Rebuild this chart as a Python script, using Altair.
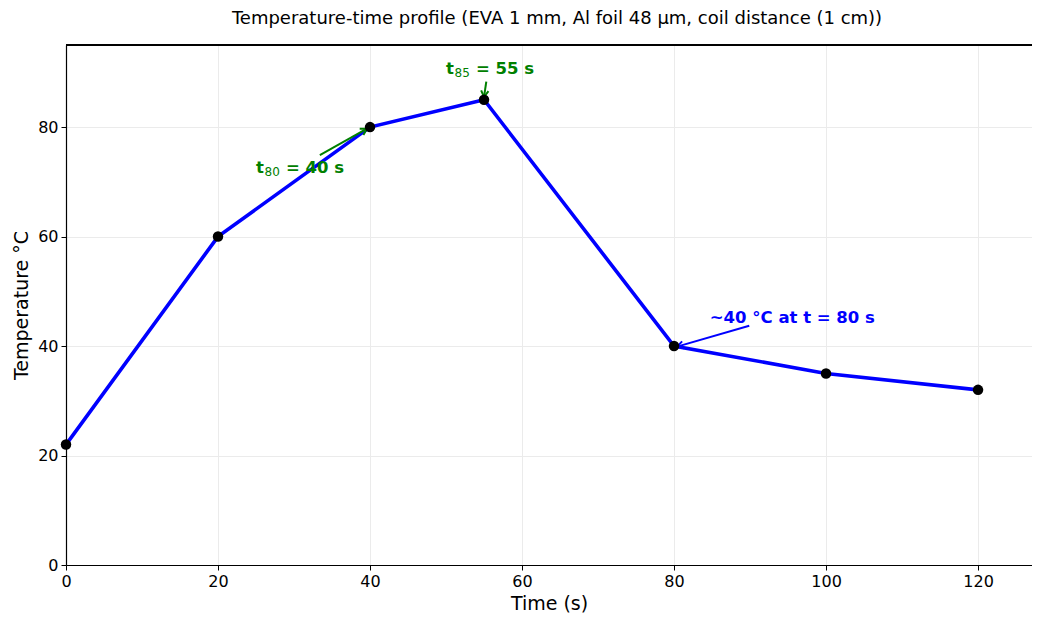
import altair as alt
import pandas as pd

time_s = [0, 20, 40, 55, 80, 100, 120]
temp_c = [22, 60, 80, 85, 40, 35, 32]

# annotation parts: main letter, subscript, rest
ann_main = ["t", "t", "~40 \u00b0C at t = 80 s"]
ann_sub = ["80", "85", ""]
ann_rest = ["= 40 s", "= 55 s", ""]
ann_tx = [25, 50, 84.7]
ann_ty = [72.5, 90.6, 45.2]
arr_x0 = [33.4, 55.3, 89.9]
arr_y0 = [74.9, 88.3, 43.7]
arr_x1 = [39.6, 55.0, 80.4]
arr_y1 = [79.7, 85.5, 39.9]
arr_angle = [60, 187, 254]
ann_color = ["#008000", "#008000", "#0000ff"]

W, H = 966, 520
XMAX, YMAX = 127.1, 95

df = pd.DataFrame({"t": time_s, "T": temp_c})
ann = pd.DataFrame({
    "main": ann_main, "sub": ann_sub, "rest": ann_rest,
    "tx": ann_tx, "ty": ann_ty,
    "x0": arr_x0, "y0": arr_y0, "x1": arr_x1, "y1": arr_y1,
    "angle": arr_angle, "color": ann_color,
})

xs = alt.Scale(domain=[0, XMAX], nice=False, zero=False)
ys = alt.Scale(domain=[0, YMAX], nice=False, zero=False)

xax = alt.Axis(values=[0, 20, 40, 60, 80, 100, 120], title="Time (s)", grid=True, labelFlush=False)
yax = alt.Axis(values=[0, 20, 40, 60, 80], title="Temperature \u00b0C", grid=True, labelFlush=False)

base = alt.Chart(df)
line = base.mark_line(color="#0000ff", strokeWidth=3.6).encode(
    x=alt.X("t:Q", scale=xs, axis=xax),
    y=alt.Y("T:Q", scale=ys, axis=yax),
)
pts = base.mark_point(filled=True, color="black", size=110, opacity=1).encode(
    x=alt.X("t:Q", scale=xs), y=alt.Y("T:Q", scale=ys)
)

ab = alt.Chart(ann)
enc_common = dict(
    x=alt.X("tx:Q", scale=xs), y=alt.Y("ty:Q", scale=ys),
    color=alt.Color("color:N", scale=None),
)
arrows = ab.mark_rule(strokeWidth=2).encode(
    x=alt.X("x0:Q", scale=xs), y=alt.Y("y0:Q", scale=ys),
    x2="x1:Q", y2="y1:Q",
    color=alt.Color("color:N", scale=None),
)
heads = ab.mark_point(
    shape="M -0.7 1.2 L 0 0 L 0.7 1.2", filled=False, size=110, strokeWidth=2, opacity=1
).encode(
    x=alt.X("x1:Q", scale=xs), y=alt.Y("y1:Q", scale=ys),
    angle=alt.Angle("angle:Q", scale=None),
    color=alt.Color("color:N", scale=None),
)
t_main = ab.mark_text(
    align="left", baseline="middle", fontSize=16.5, fontWeight="bold", font="DejaVu Sans"
).encode(text="main:N", **enc_common)
t_sub = ab.mark_text(
    align="left", baseline="middle", fontSize=12, fontWeight="normal", font="DejaVu Sans",
    dx=8.5, dy=4,
).encode(text="sub:N", **enc_common)
t_rest = ab.mark_text(
    align="left", baseline="middle", fontSize=16.5, fontWeight="bold", font="DejaVu Sans",
    dx=30,
).encode(text="rest:N", **enc_common)

topline = alt.Chart(df).mark_rule(color="black", strokeWidth=1).encode(
    x=alt.value(0), x2=alt.value(W), y=alt.value(0)
)

chart = alt.layer(line, arrows, heads, pts, t_main, t_sub, t_rest, topline).properties(
    width=W, height=H,
    title=alt.TitleParams(
        "Temperature-time profile (EVA 1 mm, Al foil 48 \u00b5m, coil distance (1 cm))",
        fontSize=18, fontWeight="normal", font="DejaVu Sans", color="black",
        anchor="middle", offset=17, dx=8,
    ),
    autosize=alt.AutoSizeParams(type="none"),
    padding={"left": 58, "top": 37, "right": 0, "bottom": 48},
).configure_view(stroke=None).configure_axis(
    labelFont="DejaVu Sans", titleFont="DejaVu Sans",
    labelFontSize=16, titleFontSize=19, titleFontWeight="normal",
    labelColor="black", titleColor="black",
    domainColor="black", tickColor="black", domainWidth=1.2,
    tickSize=5, gridColor="#ebebeb", gridWidth=1, labelPadding=3,
).configure_axisX(titlePadding=5).configure_axisY(titlePadding=6)

chart.save("out.html", embed_options={"renderer": "svg", "actions": False})
